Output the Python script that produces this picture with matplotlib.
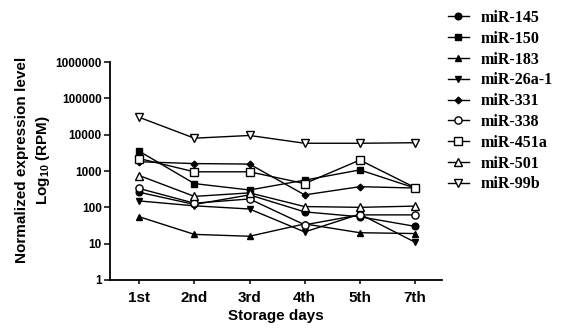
import numpy as np
import matplotlib
matplotlib.use("Agg")
import matplotlib.pyplot as plt
from matplotlib.ticker import FixedLocator, FixedFormatter, NullLocator

# ================= 数据 =================
days = ["1st", "2nd", "3rd", "4th", "5th", "7th"]

mir_145 = [260, 120, 220, 75, 55, 30]
mir_150 = [3500, 450, 300, 560, 1070, 340]
mir_183 = [55, 18, 16, 35, 20, 19]
mir_26a_1 = [150, 110, 90, 21, 65, 11]
mir_331 = [1800, 1600, 1550, 220, 370, 340]
mir_338 = [330, 130, 170, 33, 62, 62]
mir_451a = [2200, 950, 950, 450, 2000, 350]
mir_501 = [750, 200, 250, 105, 100, 108]
mir_99b = [30000, 8000, 9500, 5800, 5800, 6000]

labels = ["miR-145", "miR-150", "miR-183", "miR-26a-1", "miR-331",
          "miR-338", "miR-451a", "miR-501", "miR-99b"]
series = [mir_145, mir_150, mir_183, mir_26a_1, mir_331,
          mir_338, mir_451a, mir_501, mir_99b]

# 样式: (marker, 是否实心, 大小)
styles = [("o", True, 4.8), ("s", True, 4.8), ("^", True, 4.8),
          ("v", True, 4.8), ("D", True, 3.4), ("o", False, 5.2),
          ("s", False, 5.2), ("^", False, 5.8), ("v", False, 5.8)]

# ================= 绘图 =================
plt.rcParams['mathtext.fontset'] = 'custom'
plt.rcParams['mathtext.rm'] = 'Liberation Sans'
plt.rcParams['mathtext.bf'] = 'Liberation Sans:bold'

fig = plt.figure(figsize=(5.62, 3.32), dpi=100)
ax = fig.add_axes([110 / 562, 1 - 280 / 332, 332 / 562, 218 / 332])

x = np.arange(len(days))
handles = []
for vals, lab, (mk, filled, ms) in zip(series, labels, styles):
    h, = ax.plot(x, vals, color="black", lw=1.0, marker=mk, ms=ms,
                 mfc="black" if filled else "white", mec="black", mew=1.0,
                 label=lab)
    handles.append(h)

ax.set_yscale("log")
ax.set_ylim(1, 1e6)
ax.set_xlim(-0.53, 5.49)
yt = [1, 10, 100, 1000, 10000, 100000, 1000000]
ax.yaxis.set_major_locator(FixedLocator(yt))
ax.yaxis.set_major_formatter(FixedFormatter([str(v) for v in yt]))
ax.yaxis.set_minor_locator(NullLocator())
ax.set_xticks(x)
ax.set_xticklabels(days)

for s in ["top", "right"]:
    ax.spines[s].set_visible(False)
for s in ["left", "bottom"]:
    ax.spines[s].set_linewidth(1.3)

ax.tick_params(axis="y", length=4, width=1.1, labelsize=8.5, pad=2)
ax.tick_params(axis="x", length=3, width=1.1, labelsize=11, pad=5)
for t in ax.get_yticklabels() + ax.get_xticklabels():
    t.set_fontfamily("Liberation Sans")
    t.set_fontweight("bold")

ax.set_xlabel("Storage days", fontsize=11, fontweight="bold",
              fontfamily="Liberation Sans", labelpad=3)

fig.text(22 / 562, 1 - 160 / 332, "Normalized expression level", rotation=90,
         ha="center", va="center", fontsize=11, fontweight="bold",
         fontfamily="Liberation Sans")
fig.text(43 / 562, 1 - 160 / 332, r"Log$_{\mathbf{10}}$ (RPM)", rotation=90,
         ha="center", va="center", fontsize=11, fontweight="bold",
         fontfamily="Liberation Sans")

leg = fig.legend(handles=handles, loc="upper left",
                 bbox_to_anchor=(448 / 562, 1 - 10 / 332), frameon=False,
                 prop={"family": "Liberation Serif", "weight": "bold", "size": 11.5},
                 labelspacing=0.30, handlelength=1.3, handletextpad=0.75,
                 borderaxespad=0, borderpad=0)

fig.savefig("out.png", dpi=100)
